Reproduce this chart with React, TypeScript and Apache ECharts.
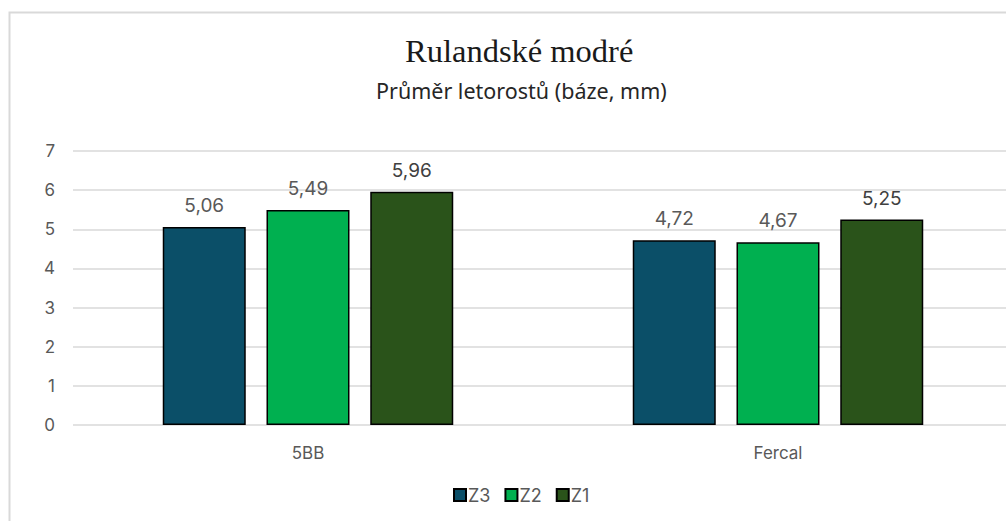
import React, { useEffect, useRef } from "react";
import * as echarts from "echarts";

const categories = ["5BB", "Fercal"];
const seriesNames = ["Z3", "Z2", "Z1"];
const z3 = [5.06, 4.72];
const z2 = [5.49, 4.67];
const z1 = [5.96, 5.25];
const yTicks = [0, 1, 2, 3, 4, 5, 6, 7];

const colors = ["#0B4F68", "#00B050", "#2A531A"];
const labelColors = ["#595959", "#595959", "#404040"];

export default function App() {
  const ref = useRef<HTMLDivElement>(null);
  useEffect(() => {
    document.body.style.margin = "0";
    document.body.style.overflow = "hidden";
    const chart = echarts.init(ref.current!, null, { renderer: "svg" });
    const data = [z3, z2, z1];
    chart.setOption({
      animation: false,
      backgroundColor: "#ffffff",
      title: [
        {
          text: "Rulandské modré",
          left: 400,
          top: 29,
          textStyle: { fontFamily: "Liberation Serif", fontSize: 32.5, fontWeight: "normal", color: "#1a1a1a" },
        },
        {
          text: "Průměr letorostů (báze, mm)",
          left: 371,
          top: 74,
          textStyle: { fontFamily: "Noto Sans", fontSize: 21.5, fontWeight: "normal", color: "#262626" },
        },
      ],
      graphic: [
        {
          type: "rect",
          shape: { x: 9.5, y: 12.5, width: 1100, height: 600 },
          style: { fill: "none", stroke: "#D9D9D9", lineWidth: 2 },
          silent: true,
        },
      ],
      legend: {
        bottom: 12,
        left: 448,
        itemWidth: 12,
        itemHeight: 12,
        itemGap: 14,
        icon: "rect",
        textStyle: { fontFamily: "Inter", fontSize: 18, color: "#595959", padding: [0, 0, 0, -3] },
        data: seriesNames,
      },
      grid: { left: 73, right: 17, top: 151, bottom: 96, containLabel: false },
      xAxis: {
        type: "category",
        data: categories,
        axisLine: { show: false },
        axisTick: { show: false },
        axisLabel: { fontFamily: "Inter", fontSize: 17, color: "#595959", margin: 19 },
      },
      yAxis: {
        type: "value",
        min: yTicks[0],
        max: yTicks[yTicks.length - 1],
        interval: 1,
        axisLine: { show: false },
        axisTick: { show: false },
        axisLabel: { fontFamily: "Inter", fontSize: 17, color: "#595959", margin: 18 },
        splitLine: { lineStyle: { color: "#D9D9D9", width: 1.5 } },
      },
      series: seriesNames.map((name, i) => ({
        name,
        type: "bar",
        data: data[i],
        barWidth: 83,
        barGap: "25%",
        itemStyle: { color: colors[i], borderColor: "#000000", borderWidth: 1.5 },
        label: {
          show: true,
          position: "top",
          distance: 12,
          fontFamily: "Inter",
          fontSize: 19,
          color: labelColors[i],
          formatter: (p: any) => p.value.toFixed(2).replace(".", ","),
        },
      })),
    });
    return () => chart.dispose();
  }, []);
  return (
    <div style={{ width: 1006, height: 521, overflow: "hidden", position: "relative" }}>
      <div ref={ref} style={{ width: 1030, height: 521 }} />
    </div>
  );
}
